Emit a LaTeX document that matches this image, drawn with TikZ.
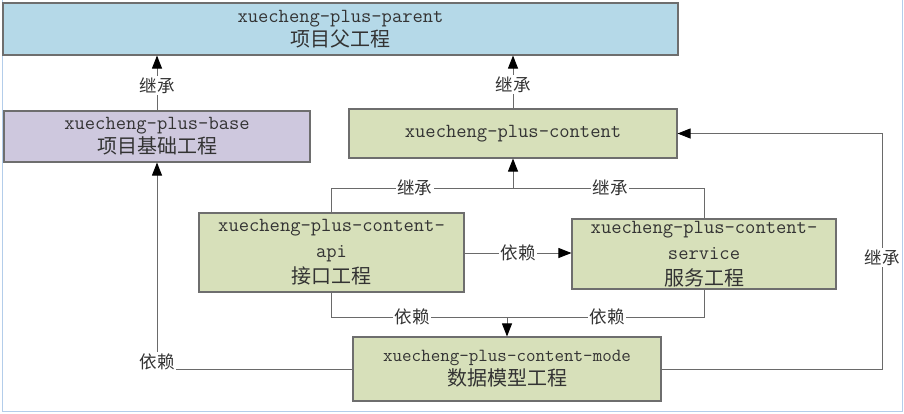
\documentclass[tikz,border=0pt]{standalone}
\usepackage{fontspec}
\newfontfamily\cjk{Noto Sans CJK SC}
\usetikzlibrary{arrows.meta}
\definecolor{parentblue}{HTML}{B5D9E8}
\definecolor{baselav}{HTML}{CEC8DE}
\definecolor{contentgreen}{HTML}{D7E0BA}
\definecolor{boxline}{HTML}{6E6E6E}
\definecolor{linkgray}{HTML}{6A6A6A}
\definecolor{frameblue}{HTML}{B3CDEA}
\definecolor{txtgray}{HTML}{333333}
\tikzset{
  box/.style={draw=boxline, line width=1.1pt, inner sep=0pt, align=center, text=txtgray},
  lat/.style={font=\fontsize{20}{26}\selectfont\ttfamily},
  link/.style={draw=linkgray, line width=0.9pt},
  arr/.style={link, -{Triangle[width=10pt,length=13pt,color=black]}},
  lbl/.style={fill=white, inner sep=1.5pt, text=txtgray, font=\fontsize{17.5}{20}\selectfont\cjk}
}
\newcommand{\zh}[1]{{\fontsize{20}{24}\selectfont\cjk #1}}
\begin{document}
\begin{tikzpicture}[x=1pt, y=-1pt]
\useasboundingbox (0,0) rectangle (904,413);
\draw[frameblue, line width=1pt] (2,0) -- (2,411) -- (902,411) -- (902,0);

\node[box, lat, fill=parentblue, minimum width=675pt, minimum height=52pt] (parent) at (340.5,29)
  {xuecheng-plus-parent\\[-2pt]\zh{项目父工程}};
\node[box, lat, fill=baselav, minimum width=306pt, minimum height=51pt] (base) at (157,136.5)
  {xuecheng-plus-base\\[-2pt]\zh{项目基础工程}};
\node[box, lat, fill=contentgreen, minimum width=328pt, minimum height=49pt] (content) at (513,133.5)
  {xuecheng-plus-content};
\node[box, lat, fill=contentgreen, minimum width=265pt, minimum height=79pt] (api) at (331.5,252.5)
  {xuecheng-plus-content-\\api\\\zh{接口工程}};
\node[box, lat, fill=contentgreen, minimum width=264pt, minimum height=70pt] (service) at (704,254)
  {xuecheng-plus-content-\\service\\\zh{服务工程}};
\node[box, fill=contentgreen, minimum width=308pt, minimum height=64pt,
  font=\fontsize{18.5}{24}\selectfont\ttfamily] (mode) at (507,369)
  {xuecheng-plus-content-mode\\\zh{数据模型工程}};

\coordinate (j1) at (content.south |- 0,188);
\coordinate (j2) at (507,317);
\coordinate (c1) at (882,369);

\draw[arr] (base.north) -- node[lbl, pos=0.45] (l1) {继承} (base.north |- parent.south);
\draw[arr] (content.north) -- node[lbl, pos=0.45] (l2) {继承} (content.north |- parent.south);
\draw[arr] (api.north) |- node[lbl, pos=0.73] (l3) {继承} (j1) -- (content.south);
\draw[link] (service.north) |- node[lbl, pos=0.745] (l4) {继承} (j1);
\draw[arr] (api.east |- 0,253) -- node[lbl] (l5) {依赖} (service.west |- 0,253);
\draw[link] (api.south) |- node[lbl, pos=0.73] (l6) {依赖} (j2);
\draw[link] (service.south) |- node[lbl, pos=0.745] (l7) {依赖} (j2);
\draw[arr] (j2) -- (mode.north);
\draw[arr] (mode.west) -| node[lbl, pos=0.5, yshift=7pt] (l8) {依赖} (base.south);
\draw[arr] (mode.east) -- (c1) |- node[lbl, pos=0.237] (l9) {继承} (content.east);
\end{tikzpicture}
\end{document}
